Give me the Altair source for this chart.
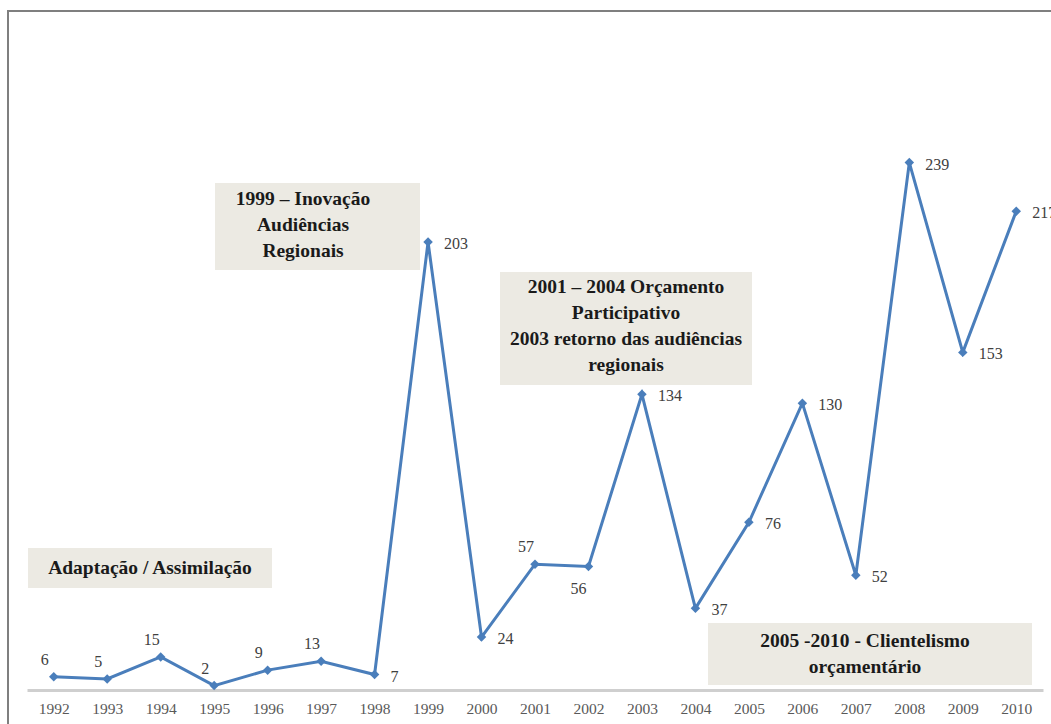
import altair as alt
import pandas as pd

years = [1992, 1993, 1994, 1995, 1996, 1997, 1998, 1999, 2000, 2001,
         2002, 2003, 2004, 2005, 2006, 2007, 2008, 2009, 2010]
values = [6, 5, 15, 2, 9, 13, 7, 203, 24, 57, 56, 134, 37, 76, 130, 52, 239, 153, 217]

labels_above = [1992, 1993, 1994, 1995, 1996, 1997, 2001]
labels_below = [2002]

note_1999 = ["1999 –  Inovação", "Audiências", "Regionais"]
note_2001 = ["2001 – 2004 Orçamento", "Participativo", "2003 retorno das audiências", "regionais"]
note_adapt = ["Adaptação / Assimilação"]
note_2005 = ["2005 -2010  -  Clientelismo", "orçamentário"]

df = pd.DataFrame({"year": [str(y) for y in years], "value": values})
df["pos"] = ["above" if y in labels_above else ("below" if y in labels_below else "right") for y in years]

W, H = 1016, 662
BLUE = "#4A7EBB"
SERIF = "Liberation Serif"
BOX = "#ECEAE3"

x = alt.X("year:O", sort=None, title=None,
          axis=alt.Axis(labelAngle=0, ticks=False, domainColor="#cfcfcf", domainWidth=3,
                        labelFont=SERIF, labelFontSize=15.5, labelColor="#595959",
                        labelPadding=11, grid=False))
y = alt.Y("value:Q", scale=alt.Scale(domain=[0, 300]), axis=None)

one = pd.DataFrame({"k": [0]})


def box(x1, x2, y1, y2):
    return alt.Chart(one).mark_rect(fill=BOX).encode(
        x=alt.value(x1), x2=alt.value(x2), y=alt.value(y1), y2=alt.value(y2))


def note(lines, cx, ytop):
    return alt.Chart(one).mark_text(
        font=SERIF, fontSize=19.5, fontWeight="bold", color="#1a1a1a",
        align="center", baseline="top", lineHeight=26).encode(
        x=alt.value(cx), y=alt.value(ytop), text=alt.value(lines))


frame = alt.Chart(one).mark_rect(fill=None, stroke="#7f7f7f", strokeWidth=2).encode(
    x=alt.value(-19), x2=alt.value(1080), y=alt.value(-17), y2=alt.value(740))

boxes = [
    box(188, 393, 155, 242), note(note_1999, 276, 162),
    box(473, 725, 244, 357), note(note_2001, 599, 250),
    box(1, 245, 520, 560), note(note_adapt, 123, 531),
    box(681, 1005, 595, 657), note(note_2005, 838, 604),
]

base = alt.Chart(df).encode(x=x, y=y)
line = base.mark_line(color=BLUE, strokeWidth=3)
pts = base.mark_point(shape="diamond", filled=True, color=BLUE, size=90, opacity=1)

lab_style = dict(font=SERIF, fontSize=16, color="#404040")
lab_right = base.transform_filter(alt.datum.pos == "right").mark_text(
    align="left", baseline="middle", dx=16, dy=2, **lab_style).encode(text="value:Q")
lab_above = base.transform_filter(alt.datum.pos == "above").mark_text(
    align="center", baseline="middle", dx=-9, dy=-17, **lab_style).encode(text="value:Q")
lab_below = base.transform_filter(alt.datum.pos == "below").mark_text(
    align="center", baseline="middle", dx=-10, dy=23, **lab_style).encode(text="value:Q")

chart = alt.layer(frame, *boxes, line, pts, lab_right, lab_above, lab_below).properties(
    width=W, height=H,
    autosize=alt.AutoSizeParams(type="none"),
    padding={"left": 27, "top": 28, "right": 8, "bottom": 34},
    background="white",
).configure_view(stroke=None)

chart.save("out.html", embed_options={"renderer": "svg", "actions": False})
